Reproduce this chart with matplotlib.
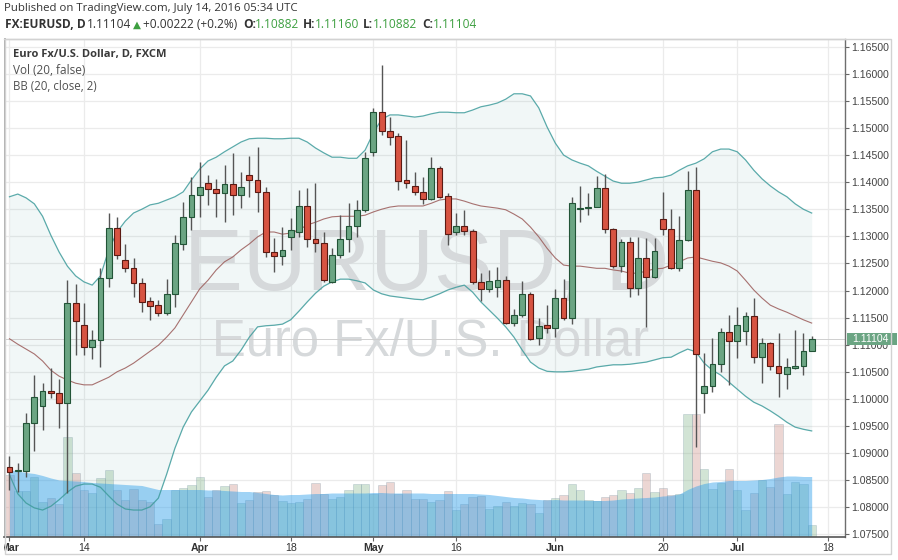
import numpy as np
import pandas as pd
import matplotlib
matplotlib.use('Agg')
import matplotlib.pyplot as plt
from matplotlib.patches import Rectangle
import matplotlib.transforms as mtransforms

# ---------------- data ----------------
dates = pd.bdate_range('2016-03-01', '2016-07-14')

opens = [1.08744, 1.08670, 1.08676, 1.09561, 1.09875, 1.10146, 1.10104, 1.09919, 1.11764, 1.11358,
         1.10963, 1.11087, 1.12225, 1.13159, 1.12563, 1.12410, 1.12144, 1.11807, 1.11733, 1.11591,
         1.11936, 1.12858, 1.13362, 1.13762, 1.13978, 1.13867, 1.13794, 1.13965, 1.13762, 1.14137,
         1.14039, 1.13823, 1.12716, 1.12642, 1.12993, 1.13085, 1.13565, 1.12945, 1.12871, 1.12152,
         1.12655, 1.12945, 1.13190, 1.13480, 1.14561, 1.15288, 1.14949, 1.14851, 1.14039, 1.13928,
         1.13812, 1.13694, 1.14255, 1.13749, 1.13085, 1.13185, 1.13104, 1.12152, 1.12022, 1.12070,
         1.12194, 1.11395, 1.11543, 1.11936, 1.11118, 1.11364, 1.11303, 1.11867, 1.11487, 1.13510,
         1.13517, 1.13546, 1.13886, 1.13141, 1.12458, 1.12901, 1.12041, 1.12594, 1.12244, 1.13314,
         1.13135, 1.12410, 1.12932, 1.13855, 1.10104, 1.10238, 1.10644, 1.11240, 1.11069, 1.11253,
         1.11530, 1.10768, 1.11026, 1.10607, 1.10460, 1.10570, 1.10607, 1.10882]
highs = [1.08947, 1.08818, 1.09735, 1.10447, 1.10288, 1.10565, 1.10362, 1.12194, 1.12115, 1.11775,
         1.11272, 1.12410, 1.13425, 1.13362, 1.12858, 1.12594, 1.12236, 1.11886, 1.11825, 1.12212,
         1.13024, 1.13639, 1.14100, 1.14377, 1.14131, 1.14052, 1.14316, 1.14532, 1.14192, 1.14482,
         1.14653, 1.13904, 1.12963, 1.13177, 1.13332, 1.13855, 1.13886, 1.13989, 1.13085, 1.12779,
         1.13393, 1.13609, 1.13670, 1.14561, 1.15362, 1.16161, 1.15207, 1.14901, 1.14777, 1.14192,
         1.14100, 1.14469, 1.14297, 1.13805, 1.13436, 1.13486, 1.13129, 1.12318, 1.12379, 1.12439,
         1.12268, 1.11653, 1.12176, 1.11978, 1.11487, 1.11733, 1.12022, 1.12207, 1.13731, 1.13928,
         1.13805, 1.14113, 1.14150, 1.13148, 1.12945, 1.12982, 1.12982, 1.12963, 1.12963, 1.13823,
         1.13498, 1.13375, 1.14211, 1.14284, 1.10842, 1.11118, 1.11303, 1.11548, 1.11701, 1.11598,
         1.11867, 1.11118, 1.11056, 1.11211, 1.10749, 1.11272, 1.11211, 1.11160]
lows = [1.08320, 1.08283, 1.08565, 1.09045, 1.09427, 1.10011, 1.09469, 1.08264, 1.10810, 1.10810,
        1.10731, 1.10594, 1.12070, 1.12576, 1.12347, 1.11886, 1.11609, 1.11456, 1.11530, 1.11548,
        1.11701, 1.12748, 1.13117, 1.13362, 1.13578, 1.13362, 1.13270, 1.13393, 1.13517, 1.13731,
        1.13454, 1.12624, 1.12347, 1.12471, 1.12748, 1.12993, 1.12808, 1.12716, 1.12157, 1.12133,
        1.12594, 1.12716, 1.12993, 1.13454, 1.14482, 1.14869, 1.14685, 1.13855, 1.13886, 1.13762,
        1.13596, 1.13670, 1.13701, 1.12840, 1.13024, 1.13024, 1.12120, 1.11812, 1.11978, 1.11886,
        1.11382, 1.11345, 1.11517, 1.11087, 1.10995, 1.11222, 1.11148, 1.11456, 1.11382, 1.13270,
        1.13393, 1.13535, 1.13056, 1.12410, 1.12347, 1.11886, 1.11917, 1.11321, 1.12225, 1.13024,
        1.12400, 1.12366, 1.12920, 1.09118, 1.09735, 1.10133, 1.10502, 1.10257, 1.10749, 1.10995,
        1.10657, 1.10299, 1.10534, 1.10041, 1.10177, 1.10546, 1.10441, 1.10882]
closes = [1.08652, 1.08689, 1.09561, 1.10030, 1.10146, 1.10104, 1.09919, 1.11764, 1.11443, 1.10963,
          1.11087, 1.12225, 1.13159, 1.12655, 1.12410, 1.12144, 1.11794, 1.11720, 1.11591, 1.11936,
          1.12871, 1.13362, 1.13762, 1.13904, 1.13867, 1.13794, 1.13965, 1.13762, 1.13915, 1.14039,
          1.13823, 1.12716, 1.12642, 1.12748, 1.13117, 1.13565, 1.12945, 1.12871, 1.12194, 1.12655,
          1.12950, 1.13190, 1.13480, 1.14439, 1.15288, 1.14949, 1.14838, 1.14026, 1.13978, 1.13812,
          1.13694, 1.14255, 1.13731, 1.13037, 1.13190, 1.13104, 1.12152, 1.12022, 1.12176, 1.12194,
          1.11395, 1.11543, 1.11936, 1.11105, 1.11351, 1.11303, 1.11867, 1.11487, 1.13609, 1.13517,
          1.13546, 1.13886, 1.13129, 1.12458, 1.12901, 1.12041, 1.12594, 1.12244, 1.12735, 1.13129,
          1.12410, 1.12932, 1.13855, 1.10829, 1.10238, 1.10644, 1.11240, 1.11069, 1.11364, 1.11530,
          1.10768, 1.11026, 1.10607, 1.10473, 1.10583, 1.10607, 1.10884, 1.11104]

bb_upper = [1.1373, 1.1378, 1.1371, 1.1360, 1.1337, 1.1302, 1.1271, 1.1245, 1.1227, 1.1216,
            1.1210, 1.1227, 1.1275, 1.1308, 1.1328, 1.1343, 1.1350, 1.1358, 1.1361, 1.1367,
            1.1373, 1.1382, 1.1404, 1.1424, 1.1439, 1.1446, 1.1456, 1.1465, 1.1474, 1.1480,
            1.1481, 1.1481, 1.1480, 1.1480, 1.1481, 1.1481, 1.1474, 1.1463, 1.1454, 1.1446,
            1.1446, 1.1444, 1.1444, 1.1459, 1.1491, 1.1516, 1.1524, 1.1524, 1.1522, 1.1520,
            1.1522, 1.1526, 1.1529, 1.1529, 1.1528, 1.1528, 1.1533, 1.1539, 1.1542, 1.1546,
            1.1553, 1.1563, 1.1563, 1.1559, 1.1537, 1.1502, 1.1472, 1.1450, 1.1441, 1.1435,
            1.1430, 1.1420, 1.1411, 1.1402, 1.1398, 1.1398, 1.1400, 1.1404, 1.1408, 1.1409,
            1.1413, 1.1422, 1.1430, 1.1435, 1.1443, 1.1456, 1.1461, 1.1461, 1.1456, 1.1441,
            1.1422, 1.1406, 1.1393, 1.1382, 1.1373, 1.1360, 1.1350, 1.1343]
bb_mid = [1.1111, 1.1101, 1.1092, 1.1083, 1.1070, 1.1053, 1.1042, 1.1035, 1.1029, 1.1026,
          1.1026, 1.1033, 1.1040, 1.1050, 1.1057, 1.1066, 1.1077, 1.1088, 1.1099, 1.1114,
          1.1131, 1.1155, 1.1179, 1.1203, 1.1219, 1.1238, 1.1253, 1.1262, 1.1275, 1.1286,
          1.1299, 1.1308, 1.1308, 1.1304, 1.1306, 1.1312, 1.1321, 1.1326, 1.1332, 1.1336,
          1.1337, 1.1337, 1.1337, 1.1339, 1.1345, 1.1350, 1.1354, 1.1356, 1.1356, 1.1356,
          1.1356, 1.1361, 1.1367, 1.1369, 1.1369, 1.1365, 1.1360, 1.1356, 1.1354, 1.1352,
          1.1349, 1.1341, 1.1332, 1.1317, 1.1299, 1.1278, 1.1260, 1.1247, 1.1245, 1.1245,
          1.1243, 1.1241, 1.1241, 1.1238, 1.1236, 1.1232, 1.1232, 1.1236, 1.1240, 1.1241,
          1.1247, 1.1253, 1.1260, 1.1262, 1.1258, 1.1254, 1.1251, 1.1245, 1.1236, 1.1219,
          1.1201, 1.1186, 1.1173, 1.1166, 1.1160, 1.1153, 1.1146, 1.1140]
bb_lower = [1.0860, 1.0825, 1.0808, 1.0799, 1.0795, 1.0802, 1.0814, 1.0828, 1.0839, 1.0843,
            1.0843, 1.0837, 1.0821, 1.0806, 1.0797, 1.0795, 1.0795, 1.0801, 1.0817, 1.0861,
            1.0909, 1.0948, 1.0976, 1.0996, 1.1016, 1.1040, 1.1061, 1.1070, 1.1090, 1.1114,
            1.1133, 1.1135, 1.1136, 1.1138, 1.1146, 1.1162, 1.1179, 1.1195, 1.1208, 1.1216,
            1.1221, 1.1221, 1.1218, 1.1214, 1.1201, 1.1194, 1.1190, 1.1188, 1.1186, 1.1184,
            1.1183, 1.1188, 1.1194, 1.1201, 1.1206, 1.1210, 1.1197, 1.1179, 1.1164, 1.1149,
            1.1133, 1.1114, 1.1090, 1.1068, 1.1057, 1.1051, 1.1050, 1.1050, 1.1051, 1.1053,
            1.1055, 1.1059, 1.1061, 1.1063, 1.1063, 1.1064, 1.1066, 1.1068, 1.1072, 1.1076,
            1.1077, 1.1085, 1.1092, 1.1087, 1.1066, 1.1053, 1.1044, 1.1031, 1.1018, 1.1005,
            1.0994, 1.0987, 1.0978, 1.0968, 1.0957, 1.0948, 1.0944, 1.0941]

# volume (thousands) and its 20-period average
volume = [123, 91, 91, 120, 70, 78, 66, 200, 128, 93,
          88, 118, 133, 93, 74, 96, 73, 70, 26, 36,
          94, 98, 104, 120, 80, 93, 101, 106, 68, 73,
          90, 92, 83, 71, 68, 70, 75, 108, 86, 76,
          80, 94, 106, 105, 86, 103, 110, 86, 94, 76,
          76, 70, 74, 91, 54, 65, 80, 81, 55, 61,
          70, 61, 68, 66, 48, 73, 78, 84, 105, 93,
          73, 72, 80, 83, 93, 88, 98, 128, 90, 98,
          83, 86, 245, 246, 136, 96, 108, 136, 94, 54,
          88, 113, 100, 225, 86, 110, 105, 23]
volume_ma = [133, 131, 128, 126, 122, 117, 113, 112, 111, 110,
             108, 107, 106, 105, 104, 103, 102, 98, 94, 94,
             94, 94, 94, 94, 93, 93, 92, 91, 90, 90,
             88, 86, 84, 83, 84, 84, 85, 86, 86, 87,
             87, 87, 87, 87, 88, 88, 87, 87, 87, 87,
             87, 86, 86, 86, 86, 86, 86, 85, 84, 82,
             80, 78, 77, 75, 74, 73, 74, 73, 73, 73,
             72, 72, 72, 73, 75, 76, 77, 78, 79, 81,
             82, 85, 94, 101, 106, 109, 110, 112, 112, 112,
             113, 114, 116, 119, 121, 121, 120, 120]

tick_dates = ['2016-03-01', '2016-03-14', '2016-04-01', '2016-04-18', '2016-05-02',
              '2016-05-16', '2016-06-01', '2016-06-20', '2016-07-01', '2016-07-18']
tick_labels = ['Mar', '14', 'Apr', '18', 'May', '16', 'Jun', '20', 'Jul', '18']
month_labels = {'Mar', 'Apr', 'May', 'Jun', 'Jul'}

last_price = 1.11104

# ---------------- layout ----------------
W, H, DPI = 898, 560, 100
fig = plt.figure(figsize=(W / DPI, H / DPI), dpi=DPI)
fig.patch.set_facecolor('white')

px_left, px_right, px_top, px_bottom = 4.5, 845.0, 38.5, 536.5
rect = [px_left / W, 1 - px_bottom / H, (px_right - px_left) / W, (px_bottom - px_top) / H]

ax_bg = fig.add_axes(rect)
ax_vol = fig.add_axes(rect)
ax = fig.add_axes(rect)
for a in (ax_vol, ax):
    a.set_facecolor('none')

n = len(opens)
x = np.arange(n)
opens_a = np.array(opens); closes_a = np.array(closes)
highs_a = np.array(highs); lows_a = np.array(lows)
up = closes_a >= opens_a

xmin, xmax = -0.6046, 101.03
ymin, ymax = 1.07462, 1.16650
for a in (ax_bg, ax_vol, ax):
    a.set_xlim(xmin, xmax)
for a in (ax_bg, ax):
    a.set_ylim(ymin, ymax)
ax_vol.set_ylim(0, 996)

all_days = pd.bdate_range('2016-03-01', '2016-07-18')
tick_pos = [all_days.get_loc(pd.Timestamp(d)) for d in tick_dates]
price_ticks = np.round(np.arange(1.075, 1.16501, 0.005), 3)

# background: grid, band fill, watermark
ax_bg.set_facecolor('white')
for s in ax_bg.spines.values():
    s.set_visible(False)
ax_bg.set_xticks([]); ax_bg.set_yticks([])
for p in price_ticks:
    ax_bg.axhline(p, color='#ebebeb', lw=0.9, zorder=0)
for tp in tick_pos:
    ax_bg.axvline(tp, color='#ebebeb', lw=0.9, zorder=0)
ax_bg.fill_between(x, bb_lower, bb_upper, color='#138484', alpha=0.06, lw=0, zorder=1)

# volume
ax_vol.axis('off')
vol_colors = np.where(up, '#7eb287', '#c98a81')
ax_vol.bar(x, volume, width=1.0, color=vol_colors, alpha=0.35,
           edgecolor='#6f8fa0', linewidth=0.5, zorder=1)
ax_vol.fill_between(x, 0, volume_ma, color=(44 / 255, 159 / 255, 235 / 255, 0.45), lw=0, zorder=2)

# bollinger lines
ax.plot(x, bb_upper, color='#3f9c9c', lw=0.9, alpha=0.85, zorder=3)
ax.plot(x, bb_lower, color='#3f9c9c', lw=0.9, alpha=0.85, zorder=3)
ax.plot(x, bb_mid, color='#9a5a58', lw=0.8, alpha=0.85, zorder=3)

# last price line
ax.axhline(last_price, color='#cfcfcf', lw=0.7, zorder=2)

# candles
ax.vlines(x, lows_a, highs_a, color='#555555', lw=1.0, zorder=4)
body_lo = np.minimum(opens_a, closes_a)
body_h = np.abs(closes_a - opens_a)
min_h = 0.00007
small = body_h < min_h
body_lo = np.where(small, (opens_a + closes_a) / 2 - min_h / 2, body_lo)
body_h = np.where(small, min_h, body_h)
ax.bar(x, body_h, bottom=body_lo, width=0.7,
       color=np.where(up, '#6ba583', '#d75442'),
       edgecolor=np.where(up, '#225437', '#5b1a13'), linewidth=0.8, zorder=5)

# axes styling
ax.spines['left'].set_color('#a8a8a8'); ax.spines['left'].set_linewidth(1.3)
ax.spines['top'].set_color('#d6d6d6'); ax.spines['top'].set_linewidth(1.0)
ax.spines['right'].set_color('#6e6e6e'); ax.spines['right'].set_linewidth(1.0)
ax.spines['bottom'].set_color('#555555'); ax.spines['bottom'].set_linewidth(1.2)
ax.yaxis.tick_right()
ax.set_yticks(price_ticks)
ax.set_yticklabels([f'{p:.5f}' for p in price_ticks], family='Liberation Sans')
ax.tick_params(axis='y', length=3, pad=1.5, labelsize=7.6, color='#666666', labelcolor='#444444')
ax.set_xticks(tick_pos)
ax.set_xticklabels(tick_labels, family='Liberation Sans')
ax.tick_params(axis='x', length=3, pad=2, labelsize=7.6, color='#666666', labelcolor='#333333')
clip_bb = mtransforms.TransformedBbox(mtransforms.Bbox([[4.0 / W, 0], [1, 1]]), fig.transFigure)
for lbl in ax.get_xticklabels():
    if lbl.get_text() in month_labels:
        lbl.set_fontweight('bold')
    lbl.set_clip_box(clip_bb)
    lbl.set_clip_on(True)

# last price tag
trans = mtransforms.blended_transform_factory(ax.transAxes, ax.transData)
half_h = 6.2 * (ymax - ymin) / (px_bottom - px_top)
x0f = (847 - px_left) / (px_right - px_left)
x1f = (897 - px_left) / (px_right - px_left)
ax.add_patch(Rectangle((x0f, last_price - half_h), x1f - x0f, 2 * half_h, transform=trans,
                       facecolor='#6ba583', edgecolor='none', clip_on=False, zorder=20))
ax.text((870 - px_left) / (px_right - px_left), last_price, f'{last_price:.5f}', transform=trans,
        ha='center', va='center', color='white', fontsize=7.6, family='Liberation Sans',
        clip_on=False, zorder=21)

# outer frame
fig.add_artist(Rectangle((px_left / W, 1 - 554 / H), (891 - px_left) / W, (554 - px_top) / H,
                         transform=fig.transFigure, fill=False, edgecolor='#d2d2d2', lw=1.0))

# ---------------- texts ----------------
r = fig.canvas.get_renderer()
HF = ['Open Sans', 'DejaVu Sans']


def fig_text(xp, yp, s, width=None, **kw):
    t = fig.text(xp / W, 1 - yp / H, s, **kw)
    if width is not None:
        w = t.get_window_extent(renderer=r).width
        t.set_fontsize(t.get_fontsize() * width / w)
    return t


fig_text(4, 9, 'Published on TradingView.com, July 14, 2016 05:34 UTC', width=293,
         fontsize=9, family=HF, color='#333333', va='center', ha='left')

green_txt = '#3d9f40'
dark = '#333333'
pieces = [(5, 'FX:EURUSD, D', dark, 'bold'), (87, '1.11104', dark, 'normal'),
          (133, '▲', green_txt, 'normal'), (143, '+0.00222 (+0.2%)', dark, 'normal'),
          (243, 'O:', dark, 'bold'), (255, '1.10882', green_txt, 'normal'),
          (303, 'H:', dark, 'bold'), (315, '1.11160', green_txt, 'normal'),
          (363, 'L:', dark, 'bold'), (373, '1.10882', green_txt, 'normal'),
          (422, 'C:', dark, 'bold'), (433, '1.11104', green_txt, 'normal')]
for xp, s, col, wt in pieces:
    fam = ['DejaVu Sans'] if s == '▲' else HF
    fig_text(xp, 25, s, fontsize=8.6 if s != '▲' else 7.5, family=fam, color=col,
             fontweight=wt, va='center', ha='left')

fig_text(13, 54, 'Euro Fx/U.S. Dollar, D, FXCM', width=155, fontsize=9, family=HF,
         fontweight='bold', color='#3a3a3a', va='center', ha='left')
fig_text(13, 70.5, 'Vol (20, false)', width=73, fontsize=9, family=HF,
         color='#505050', va='center', ha='left')
fig_text(13, 86.5, 'BB (20, close, 2)', width=84, fontsize=9, family=HF,
         color='#505050', va='center', ha='left')

# watermark (drawn on background axes, under candles)
wm1 = ax_bg.text((427 - px_left) / (px_right - px_left), (px_bottom - 290) / (px_bottom - px_top),
                 'EURUSD, D', transform=ax_bg.transAxes, ha='center', va='baseline',
                 fontsize=64, family='Liberation Sans', color='#d6d9db', zorder=2)
w = wm1.get_window_extent(renderer=r).width
wm1.set_fontsize(64 * 485 / w)
wm2 = ax_bg.text((431 - px_left) / (px_right - px_left), (px_bottom - 355) / (px_bottom - px_top),
                 'Euro Fx/U.S. Dollar', transform=ax_bg.transAxes, ha='center', va='baseline',
                 fontsize=32, family='Liberation Sans', color='#d6d9db', zorder=2)
w = wm2.get_window_extent(renderer=r).width
wm2.set_fontsize(32 * 437 / w)

fig.savefig('out.png', dpi=DPI, facecolor='white')
